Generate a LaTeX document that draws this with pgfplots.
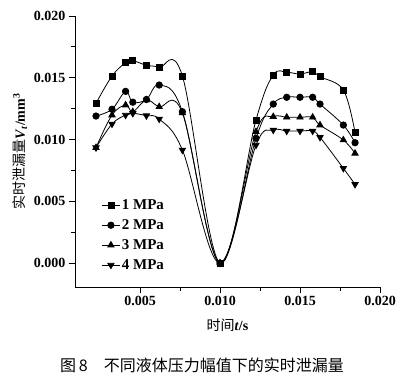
\documentclass[border=0pt]{standalone}
\usepackage{fontspec}
\setmainfont{Liberation Serif}
\newfontfamily\cjk{Noto Sans CJK SC}
\usepackage{pgfplots}
\pgfplotsset{compat=1.18}
\begin{document}
\begin{tikzpicture}[x=1pt,y=1pt]
\path (0,0) rectangle (412,376);
\begin{axis}[
  at={(75pt,89pt)}, anchor=south west,
  width=305pt, height=271pt, scale only axis,
  xmin=0.0009375, xmax=0.020, ymin=-0.00194, ymax=0.020,
  axis x line*=bottom, axis y line*=left,
  axis line style={line width=0.8pt},
  xtick={0.005,0.010,0.015,0.020},
  ytick={0,0.005,0.010,0.015,0.020},
  minor tick num=1,
  tick align=outside,
  major tick length=6pt, minor tick length=4pt,
  tick style={line width=0.8pt, black},
  scaled ticks=false,
  /pgf/number format/assume math mode=true,
  xticklabel style={/pgf/number format/.cd, fixed, fixed zerofill, precision=3},
  yticklabel style={/pgf/number format/.cd, fixed, fixed zerofill, precision=3},
  tick label style={font=\fontsize{14}{16}\selectfont\bfseries},
  xlabel={{\cjk 时间}\textbf{\textit{t}/s}},
  xlabel style={yshift=-6pt},
  ylabel={{\cjk 实时泄漏量}\textbf{\textit{V}\textsubscript{\textit{t}}/mm\textsuperscript{3}}},
  label style={font=\fontsize{14}{16}\selectfont},
  legend style={draw=none, fill=none, at={(0.078,0.338)}, anchor=north west,
    font=\fontsize{15}{17}\selectfont\bfseries, row sep=4.5pt},
  legend cell align=left,
]
\addplot[black, line width=0.8pt, smooth, tension=0.6, mark=square*, mark size=3pt, mark options={solid, black}] coordinates {
(0.00225,0.01293) (0.00325,0.01514) (0.0041,0.01622) (0.00455,0.01638) (0.0054,0.01601) (0.0062,0.01585) (0.00765,0.01514) (0.0100,0.0000)
(0.01225,0.01158) (0.01333,0.01522) (0.01417,0.01544) (0.0150,0.01530) (0.01579,0.01549) (0.01625,0.01508) (0.01771,0.01401) (0.01844,0.01055)};
\addlegendentry{1 MPa}
\addplot[black, line width=0.8pt, smooth, tension=0.6, mark=*, mark size=3.2pt, mark options={solid, black}] coordinates {
(0.00225,0.01190) (0.00325,0.01245) (0.0041,0.01390) (0.00455,0.01302) (0.0054,0.01324) (0.0062,0.01441) (0.00765,0.01225) (0.0100,0.0000)
(0.01225,0.01010) (0.01333,0.01287) (0.01417,0.01342) (0.0150,0.01342) (0.01579,0.01342) (0.01625,0.01287) (0.01771,0.01117) (0.01844,0.00974)};
\addlegendentry{2 MPa}
\addplot[black, line width=0.8pt, smooth, tension=0.6, mark=triangle*, mark size=3.6pt, mark options={solid, black}] coordinates {
(0.00225,0.00934) (0.00325,0.01198) (0.0041,0.01279) (0.00455,0.01225) (0.0054,0.01320) (0.0062,0.01265) (0.00765,0.01215) (0.0100,0.0000)
(0.01225,0.01063) (0.01333,0.01185) (0.01417,0.01180) (0.0150,0.01180) (0.01579,0.01180) (0.01625,0.01117) (0.01771,0.00996) (0.01844,0.00888)};
\addlegendentry{3 MPa}
\addplot[black, line width=0.8pt, smooth, tension=0.6, mark=triangle*, mark size=3.6pt, mark options={solid, black, rotate=180}] coordinates {
(0.00225,0.00934) (0.00325,0.01126) (0.0041,0.01198) (0.00455,0.01212) (0.0054,0.01193) (0.0062,0.01166) (0.00765,0.00915) (0.0100,0.0000)
(0.01225,0.00955) (0.01333,0.01077) (0.01417,0.01069) (0.0150,0.01069) (0.01579,0.01069) (0.01625,0.01018) (0.01771,0.00767) (0.01844,0.00637)};
\addlegendentry{4 MPa}
\end{axis}
\node[font=\cjk\fontsize{16}{18}\selectfont] at (202,11) {图\,8\quad 不同液体压力幅值下的实时泄漏量};
\end{tikzpicture}
\end{document}
